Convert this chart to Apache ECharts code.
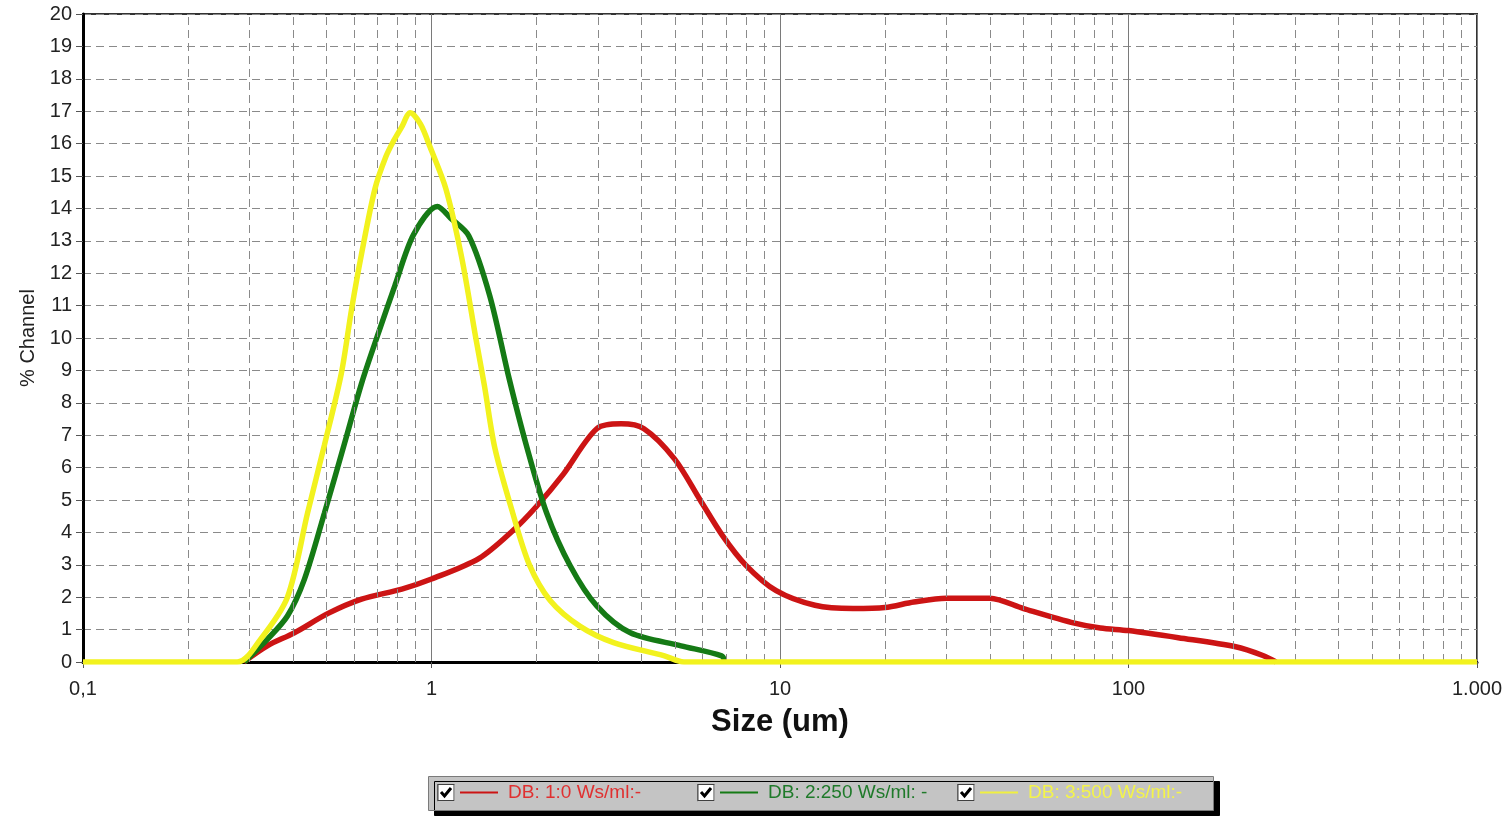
<!DOCTYPE html>
<html>
<head>
<meta charset="utf-8">
<script src="https://cdn.jsdelivr.net/npm/echarts@6/dist/echarts.min.js"></script>
<style>
html,body{margin:0;padding:0;background:#fff;}
#chart{width:1510px;height:816px;}
</style>
</head>
<body>
<div id="chart"></div>
<script>
// ---- data ----
var seriesNames = ['DB: 1:0 Ws/ml:-', 'DB: 2:250 Ws/ml: -', 'DB: 3:500 Ws/ml:-'];
var xTickValues = [0.1, 1, 10, 100, 1000];
var xTickLabels = ['0,1', '1', '10', '100', '1.000'];

var redSize = [0.289, 0.338, 0.404, 0.505, 0.63, 0.822, 1.0, 1.37, 1.71, 2.0, 2.39, 2.98, 3.5, 4.07, 4.98, 5.9, 6.84, 7.96, 9.75, 12.6, 16.2, 20, 24.2, 30, 40, 50, 70, 83, 100, 139, 203, 243, 265];
var redValue = [0, 0.5, 0.9, 1.5, 1.94, 2.25, 2.56, 3.2, 4.05, 4.8, 5.8, 7.2, 7.35, 7.2, 6.27, 5.0, 3.9, 3.0, 2.2, 1.75, 1.65, 1.68, 1.85, 1.97, 1.97, 1.65, 1.2, 1.05, 0.97, 0.75, 0.47, 0.2, 0];

var greenSize = [0.29, 0.338, 0.386, 0.432, 0.493, 0.563, 0.63, 0.704, 0.787, 0.889, 1.04, 1.135, 1.28, 1.47, 1.67, 1.87, 2.14, 2.5, 2.98, 3.72, 5.2, 6.8, 6.95];
var greenValue = [0, 0.7, 1.42, 2.56, 4.6, 6.75, 8.6, 10.15, 11.65, 13.2, 14.06, 13.7, 13.15, 11.3, 8.75, 6.7, 4.6, 2.97, 1.73, 0.9, 0.5, 0.19, 0];

var yellowSize = [0.1, 0.277, 0.323, 0.386, 0.441, 0.493, 0.551, 0.59, 0.63, 0.688, 0.74, 0.78, 0.82, 0.869, 0.93, 0.99, 1.1, 1.22, 1.34, 1.42, 1.52, 1.71, 1.91, 2.19, 2.67, 3.33, 4.66, 5.3, 1000];
var yellowValue = [0, 0, 0.7, 2.0, 4.6, 6.7, 8.9, 10.9, 12.6, 14.6, 15.6, 16.1, 16.5, 16.95, 16.6, 15.9, 14.6, 12.5, 10.0, 8.5, 6.6, 4.6, 3.0, 1.9, 1.1, 0.6, 0.19, 0, 0];

var colors = ['#cc1414', '#157a15', '#f2f21e'];
var legendTextColors = ['#e03030', '#1f7a2a', '#f4f44a'];
var legendLeft = [437, 697, 957];

function zip(xs, ys) { return xs.map(function (x, i) { return [x, ys[i]]; }); }

// minor grid positions (2..9 within each decade)
var minorLines = [];
[0.1, 1, 10, 100].forEach(function (d) {
  for (var k = 2; k <= 9; k++) minorLines.push({ xAxis: +(d * k).toPrecision(3) });
});

var checkSvg = "<svg xmlns='http://www.w3.org/2000/svg' width='18' height='18'>" +
  "<rect x='0' y='0' width='18' height='18' fill='#808080'/>" +
  "<rect x='1' y='1' width='17' height='17' fill='#ffffff'/>" +
  "<rect x='1' y='1' width='16' height='16' fill='none' stroke='#404040' stroke-width='1'/>" +
  "<path d='M4 8.5 L7.5 12.5 L14 4.5' stroke='#000' stroke-width='3' fill='none'/></svg>";
var checkIcon = 'image://data:image/svg+xml;charset=utf-8,' + encodeURIComponent(checkSvg);

var font = 'Liberation Sans, Arial, sans-serif';
var lineKeys = ['r', 'g', 'y'];

var legends = seriesNames.map(function (n, i) {
  var rich = {};
  rich[lineKeys[i]] = { backgroundColor: i === 2 ? '#f0f040' : colors[i], width: 38, height: 2 };
  rich.w = { fontFamily: font, fontSize: 19, padding: [0, 0, 0, 10], color: legendTextColors[i] };
  return {
    left: legendLeft[i], top: 783, padding: 0,
    itemWidth: 18, itemHeight: 18,
    selectedMode: false,
    textStyle: { fontFamily: font, fontSize: 19, color: legendTextColors[i], rich: rich },
    formatter: function (name) { return '{' + lineKeys[i] + '|}{w|' + name + '}'; },
    data: [{ name: n, icon: checkIcon }]
  };
});

var chart = echarts.init(document.getElementById('chart'));
chart.setOption({
  backgroundColor: '#ffffff',
  animation: false,
  graphic: [{
    type: 'rect', left: 428, top: 776, z: -1, silent: true,
    shape: { width: 785, height: 34 },
    style: { fill: '#c4c4c4', stroke: '#7a7a7a', lineWidth: 1, shadowColor: '#000', shadowBlur: 0, shadowOffsetX: 6, shadowOffsetY: 5 }
  }],
  grid: { left: 83, right: 33, top: 14, bottom: 154, show: true, borderColor: '#333', borderWidth: 2, backgroundColor: 'transparent' },
  xAxis: {
    type: 'log', logBase: 10, min: 0.1, max: 1000,
    name: 'Size (um)', nameLocation: 'middle', nameGap: 45,
    nameTextStyle: { fontFamily: font, fontSize: 31, fontWeight: 'bold', color: '#111' },
    axisLine: { show: true, lineStyle: { color: '#000', width: 3 } },
    axisTick: { show: true, length: 6, lineStyle: { color: '#555' } },
    axisLabel: {
      fontFamily: font, fontSize: 20, color: '#222', margin: 17,
      formatter: function (v) {
        for (var i = 0; i < xTickValues.length; i++) if (Math.abs(v - xTickValues[i]) / xTickValues[i] < 1e-6) return xTickLabels[i];
        return '';
      }
    },
    splitLine: { show: true, lineStyle: { color: '#7a7a7a', width: 1, type: 'solid' } }
  },
  yAxis: {
    type: 'value', min: 0, max: 20, interval: 1,
    name: '% Channel', nameLocation: 'middle', nameGap: 45,
    nameTextStyle: { fontFamily: font, fontSize: 20, color: '#222' },
    axisLine: { show: true, lineStyle: { color: '#000', width: 3 } },
    axisTick: { show: true, length: 7, lineStyle: { color: '#555' } },
    axisLabel: { fontFamily: font, fontSize: 20, color: '#222', margin: 11 },
    splitLine: { show: true, lineStyle: { color: '#8a8a8a', width: 1, type: [8, 5] } }
  },
  legend: legends,
  series: [
    {
      name: '_minor', type: 'line', data: [], silent: true, z: 1,
      markLine: {
        silent: true, symbol: 'none', label: { show: false }, animation: false,
        lineStyle: { color: '#8a8a8a', width: 1, type: [8, 5] },
        data: minorLines
      }
    },
    {
      name: seriesNames[0], type: 'line', data: zip(redSize, redValue), smooth: 0.3,
      showSymbol: false, z: 3, lineStyle: { color: colors[0], width: 5.5 }, itemStyle: { color: colors[0] }
    },
    {
      name: seriesNames[1], type: 'line', data: zip(greenSize, greenValue), smooth: 0.3,
      showSymbol: false, z: 4, lineStyle: { color: colors[1], width: 5.5 }, itemStyle: { color: colors[1] }
    },
    {
      name: seriesNames[2], type: 'line', data: zip(yellowSize, yellowValue), smooth: 0.3,
      showSymbol: false, z: 5, lineStyle: { color: colors[2], width: 5.5 }, itemStyle: { color: colors[2] }
    }
  ]
});
</script>
</body>
</html>
